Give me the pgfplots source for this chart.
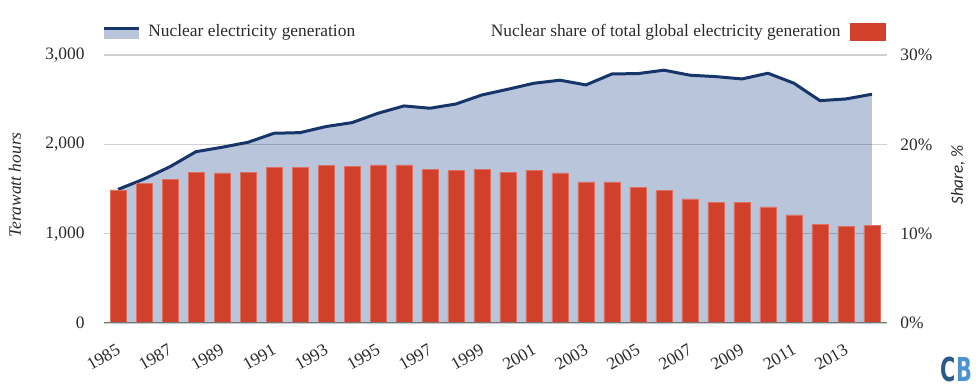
\documentclass[border=0pt]{standalone}
\usepackage{fontspec}
\setmainfont{Liberation Serif}
\newfontfamily\carlito{Carlito}
\newfontfamily\logofont{DejaVu Sans}
\usepackage{pgfplots}
\usepackage{pgfplotstable}
\pgfplotsset{compat=1.18}
\definecolor{areafill}{HTML}{B9C5DA}
\definecolor{navy}{HTML}{16366B}
\definecolor{barred}{HTML}{D1402A}
\definecolor{txt}{HTML}{2A2A2A}
\definecolor{logoC}{HTML}{2C5A88}
\definecolor{logoB}{HTML}{4B93D2}

\pgfplotstableread{
year gen share
1985 1495 14.9
1986 1612 15.6
1987 1750 16.1
1988 1918 16.9
1989 1967 16.8
1990 2023 16.9
1991 2124 17.4
1992 2131 17.4
1993 2199 17.6
1994 2243 17.5
1995 2348 17.7
1996 2430 17.7
1997 2404 17.2
1998 2452 17.05
1999 2553 17.2
2000 2617 16.9
2001 2684 17.05
2002 2718 16.8
2003 2665 15.8
2004 2788 15.8
2005 2792 15.2
2006 2830 14.8
2007 2774 13.9
2008 2758 13.5
2009 2732 13.5
2010 2796 13.0
2011 2684 12.1
2012 2489 11.0
2013 2508 10.8
2014 2561 10.9
}\datatable

\begin{document}
\begin{tikzpicture}
\useasboundingbox (0pt,0pt) rectangle (490pt,195.5pt);
\pgfplotsset{
  base/.style={
    at={(52pt,34pt)}, anchor=south west,
    width=391.5pt, height=134pt, scale only axis,
    xmin=1984.46, xmax=2014.58,
    axis line style={draw=none},
    major tick length=0pt,
    /pgf/number format/assume math mode=true,
    tick label style={font=\fontsize{8.7}{10}\selectfont, text=txt},
  }
}
\begin{axis}[base,
  ymin=0, ymax=3000,
  ytick={0,1000,2000,3000},
  y tick label style={inner sep=0pt, xshift=-9.5pt},
  xtick={1985,1987,...,2013},
  x tick label style={rotate=30, anchor=north east, inner sep=0pt, yshift=-8pt, xshift=-6pt,
    /pgf/number format/1000 sep={}},
]
\addplot[fill=areafill, draw=none] table[x=year, y=gen] {\datatable} \closedcycle;
\addplot[navy, line width=1.5pt, line join=round] table[x=year, y=gen] {\datatable};
\end{axis}
\begin{axis}[base,
  ymin=0, ymax=30,
  axis y line*=right,
  axis x line=none,
  xtick=\empty,
  ytick={0,10,20,30},
  yticklabel={\pgfmathprintnumber{\tick}\%},
  y tick label style={inner sep=0pt, xshift=6.5pt, anchor=west},
  ymajorgrids,
  major grid style={black!85, opacity=0.22, line width=0.8pt},
  ybar, bar width=8pt,
]
\addplot[fill=barred, draw=barred!75!white, line width=0.3pt] table[x=year, y=share] {\datatable};
\draw[black!55, line width=0.8pt] (rel axis cs:0,0) -- (rel axis cs:1,0);
\end{axis}
% axis titles
\node[rotate=90, font=\fontsize{8.7}{10}\selectfont\itshape, text=txt] at (7.5pt,103pt) {Terawatt hours};
\node[rotate=90, font=\fontsize{8.5}{10}\carlito\itshape, text=txt] at (479pt,108pt) {Share, \%};
% legend
\fill[areafill] (52pt,176pt) rectangle (69.5pt,181.5pt);
\draw[navy, line width=1.5pt] (52pt,181.2pt) -- (69.5pt,181.2pt);
\node[anchor=base west, inner sep=0pt, font=\fontsize{8.7}{10}\selectfont, text=txt] at (74pt,177.2pt) {Nuclear electricity generation};
\node[anchor=base east, inner sep=0pt, font=\fontsize{8.7}{10}\selectfont, text=txt] at (420.5pt,177.2pt) {Nuclear share of total global electricity generation};
\fill[barred] (425pt,175pt) rectangle (443pt,184pt);
% logo
\node[inner sep=0pt, font=\fontsize{16.5}{18}\logofont\bfseries] at (478.25pt,11pt) {\scalebox{0.63}[1]{\textcolor{logoC}{C}\textcolor{logoB}{B}}};
\end{tikzpicture}
\end{document}
